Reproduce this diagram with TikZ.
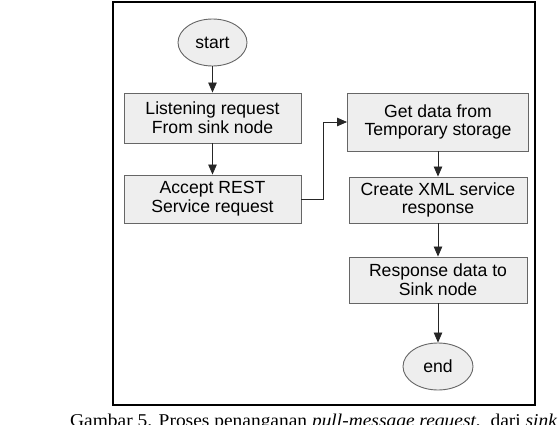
\documentclass[tikz,border=0pt]{standalone}
\usepackage{fontspec}
\setmainfont{Liberation Sans}
\newfontfamily\capfont[FakeStretch=1.08]{Liberation Serif}
\usetikzlibrary{arrows.meta,shapes.geometric}
\definecolor{boxfill}{HTML}{EEEEEE}
\definecolor{boxline}{HTML}{666666}
\tikzset{
  procbox/.style={draw=boxline, line width=0.9pt, fill=boxfill, rectangle, align=center, inner sep=0pt,
     font=\fontsize{17.6}{18.8}\selectfont},
  termnode/.style={draw=boxline, line width=0.9pt, fill=boxfill, ellipse, inner sep=0pt,
     minimum width=69pt, minimum height=47pt, font=\fontsize{17.6}{18.8}\selectfont},
  flow/.style={draw=black!85, line width=0.8pt, -{Triangle[length=10pt,width=8.5pt]}},
}
\begin{document}
\begin{tikzpicture}[x=1pt,y=-1pt]
\useasboundingbox (0,0) rectangle (559,425);
\draw[line width=1.4pt] (113,2) rectangle (535,405);
\node[termnode] (start) at (212.5,42.5) {start};
\node[procbox, minimum width=177pt, minimum height=50pt] (b1) at (212.5,118) {Listening request\\From sink node};
\node[procbox, minimum width=177pt, minimum height=48pt] (b2) at (212.5,199) {Accept REST\\Service request};
\node[procbox, minimum width=181pt, minimum height=58pt] (b3) at (438,122) {Get data from\\Temporary storage};
\node[procbox, minimum width=178pt, minimum height=46pt] (b4) at (438,200) {Create XML service\\response};
\node[procbox, minimum width=178pt, minimum height=46pt] (b5) at (438,280) {Response data to\\Sink node};
\node[termnode, minimum width=70pt] (end) at (438,366.5) {end};
\coordinate (k) at (323,199);
\draw[flow] (start) -- (b1);
\draw[flow] (b1) -- (b2);
\draw[flow] (b2.east) -- (k) |- (b3.west);
\draw[flow] (b3) -- (b4);
\draw[flow] (b4) -- (b5);
\draw[flow] (b5) -- (end);
\node[anchor=base west, inner sep=0pt, font=\capfont\fontsize{18}{20}\selectfont] (cap) at (70,426)
  {Gambar 5. Proses penanganan \textit{pull-message request},\ \ dari \textit{sink node}};
\end{tikzpicture}
\end{document}
